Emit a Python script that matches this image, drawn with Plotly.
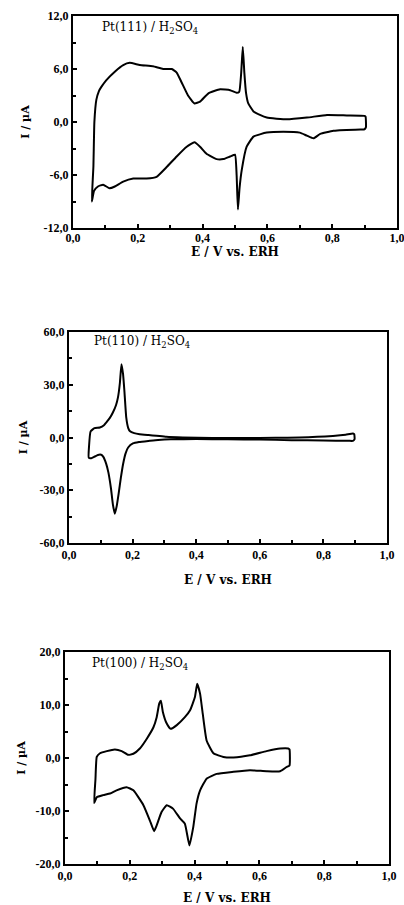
import plotly.graph_objects as go

# ---------------- data ----------------
# Pt(111)
v111_anodic = [0.058, 0.063, 0.066, 0.072, 0.080, 0.088, 0.103, 0.129, 0.155, 0.175, 0.206, 0.247, 0.278,
               0.305, 0.320, 0.335, 0.355, 0.375, 0.392, 0.418, 0.454, 0.485, 0.505, 0.513, 0.519, 0.524,
               0.529, 0.534, 0.541, 0.557, 0.577, 0.598, 0.660, 0.722, 0.784, 0.845, 0.900, 0.903, 0.904, 0.898]
i111_anodic = [-9.0, -5.0, 0.0, 2.5, 3.5, 4.0, 4.75, 5.7, 6.45, 6.7, 6.45, 6.3, 6.0,
               6.0, 5.6, 4.5, 3.0, 2.1, 2.3, 3.25, 3.7, 3.6, 3.3, 3.4, 5.5, 8.5,
               5.5, 3.3, 2.1, 1.2, 0.8, 0.5, 0.3, 0.5, 0.8, 0.75, 0.7, 0.6, -0.6, -0.85]
v111_cathodic = [0.887, 0.804, 0.763, 0.742, 0.722, 0.700, 0.649, 0.598, 0.557, 0.536, 0.521, 0.514, 0.509,
                 0.505, 0.500, 0.485, 0.464, 0.443, 0.412, 0.392, 0.375, 0.351, 0.320, 0.289, 0.258, 0.227,
                 0.186, 0.155, 0.129, 0.113, 0.093, 0.077, 0.065, 0.058]
i111_cathodic = [-0.85, -1.0, -1.35, -1.85, -1.55, -1.2, -1.1, -1.2, -1.65, -2.8, -5.4, -7.5, -9.9,
                 -6.0, -3.7, -3.9, -4.2, -4.2, -3.6, -2.8, -2.3, -2.8, -3.9, -5.1, -6.2, -6.4,
                 -6.4, -6.75, -7.3, -7.5, -7.1, -7.3, -7.8, -9.0]

# Pt(110)
v110_anodic = [0.062, 0.063, 0.068, 0.080, 0.097, 0.110, 0.117, 0.128, 0.138, 0.148, 0.154, 0.160, 0.165,
               0.170, 0.174, 0.180, 0.186, 0.192, 0.205, 0.222, 0.250, 0.275, 0.306, 0.358, 0.45, 0.55,
               0.65, 0.725, 0.78, 0.83, 0.87, 0.893, 0.897, 0.898, 0.893]
i110_anodic = [-11.5, -5.0, 3.5, 5.3, 5.7, 7.0, 8.5, 11.0, 14.2, 18.5, 22.8, 31.0, 41.7,
               36.0, 27.0, 11.4, 5.5, 3.5, 2.5, 1.9, 1.4, 1.0, 0.4, 0.0, -0.3, -0.3,
               -0.2, 0.0, 0.4, 0.9, 1.6, 2.3, 1.8, -1.0, -1.9]
v110_cathodic = [0.88, 0.80, 0.70, 0.60, 0.50, 0.40, 0.32, 0.28, 0.254, 0.22, 0.201, 0.186, 0.178, 0.170,
                 0.163, 0.156, 0.150, 0.144, 0.138, 0.132, 0.124, 0.117, 0.108, 0.101, 0.091, 0.081, 0.070, 0.062]
i110_cathodic = [-1.9, -1.7, -1.5, -1.2, -1.0, -0.9, -1.0, -1.4, -1.9, -2.6, -3.4, -5.7, -9.0, -15.2,
                 -23.0, -32.0, -39.0, -43.3, -38.0, -29.0, -20.0, -15.0, -11.0, -9.8, -9.9, -10.8, -11.8, -11.5]

# Pt(100)
v100_anodic = [0.090, 0.094, 0.098, 0.108, 0.129, 0.154, 0.175, 0.195, 0.211, 0.231, 0.252, 0.273, 0.283,
               0.291, 0.296, 0.302, 0.314, 0.326, 0.345, 0.370, 0.386, 0.401, 0.408, 0.417, 0.425, 0.437,
               0.458, 0.489, 0.520, 0.571, 0.622, 0.664, 0.689, 0.693, 0.693, 0.684]
i100_anodic = [-8.5, -4.0, 0.2, 0.9, 1.3, 1.6, 1.3, 0.6, 0.8, 1.8, 3.6, 5.8, 7.7,
               10.3, 10.8, 8.7, 6.5, 5.5, 6.2, 7.7, 9.0, 11.5, 14.0, 12.1, 8.4, 3.3,
               0.9, 0.2, 0.1, 0.5, 1.3, 1.8, 1.8, 1.6, -1.4, -1.7]
v100_cathodic = [0.664, 0.622, 0.571, 0.520, 0.468, 0.437, 0.417, 0.406, 0.396, 0.384, 0.370, 0.355, 0.334,
                 0.314, 0.298, 0.283, 0.275, 0.262, 0.242, 0.211, 0.190, 0.159, 0.139, 0.118, 0.098, 0.090]
i100_cathodic = [-2.5, -2.5, -2.3, -2.6, -3.0, -3.9, -6.1, -8.6, -13.0, -16.5, -12.4, -11.4, -9.6,
                 -8.9, -10.2, -12.7, -13.8, -11.8, -8.9, -6.1, -5.5, -6.1, -6.7, -7.0, -7.4, -8.5]

x_tickvals = [0.0, 0.2, 0.4, 0.6, 0.8, 1.0]
x_ticktext = ["0,0", "0,2", "0,4", "0,6", "0,8", "1,0"]
y111_tickvals = [-12, -6, 0, 6, 12]
y111_ticktext = ["-12,0", "-6,0", "0,0", "6,0", "12,0"]
y110_tickvals = [-60, -30, 0, 30, 60]
y110_ticktext = ["-60,0", "-30,0", "0,0", "30,0", "60,0"]
y100_tickvals = [-20, -10, 0, 10, 20]
y100_ticktext = ["-20,0", "-10,0", "0,0", "10,0", "20,0"]

labels = ["Pt(111) / H<sub>2</sub>SO<sub>4</sub>",
          "Pt(110) / H<sub>2</sub>SO<sub>4</sub>",
          "Pt(100) / H<sub>2</sub>SO<sub>4</sub>"]
x_title = "E / V vs. ERH"
y_title = "I / µA"

# ---------------- figure ----------------
W, H = 404, 905
fig = go.Figure()

panels = [
    (v111_anodic + v111_cathodic, i111_anodic + i111_cathodic, "x", "y"),
    (v110_anodic + v110_cathodic, i110_anodic + i110_cathodic, "x2", "y2"),
    (v100_anodic + v100_cathodic, i100_anodic + i100_cathodic, "x3", "y3"),
]
for vx, iy, xa, ya in panels:
    fig.add_trace(go.Scatter(x=vx, y=iy, xaxis=xa, yaxis=ya, mode="lines",
                             line=dict(color="black", width=2, shape="spline", smoothing=0.4),
                             showlegend=False, hoverinfo="skip"))

# pixel frames: (left, right, top, bottom)
frames = [(73, 397, 16, 228), (69, 387, 332, 543), (65, 389, 652, 864)]
yinfo = [((-12, 12), y111_tickvals, y111_ticktext, 3),
         ((-60, 60), y110_tickvals, y110_ticktext, 15),
         ((-20, 20), y100_tickvals, y100_ticktext, 5)]
x_label_shift = [-2, 0, 0]
x_standoffs = [0, 14, 12]
y_standoffs = [12, 10, 8]

tickfont = dict(family="Liberation Serif", size=12, color="black", weight="bold")
xtitlefont = dict(family="DejaVu Serif", size=12, color="black", weight="bold")
ytitlefont = dict(family="DejaVu Serif", size=11, color="black", weight="bold")

layout = {}
for k, ((l, r, t, b), (yr, tv, tt, ym)) in enumerate(zip(frames, yinfo)):
    sx = "" if k == 0 else str(k + 1)
    layout["xaxis" + sx] = dict(
        domain=[l / W, r / W], range=[0, 1], anchor="y" + sx, automargin=False,
        tickvals=x_tickvals, ticktext=x_ticktext, ticks="inside", ticklen=4,
        tickwidth=1.5, tickcolor="black", ticklabeloverflow="allow",
        ticklabelstandoff=x_label_shift[k],
        minor=dict(tickvals=[0.1, 0.3, 0.5, 0.7, 0.9], ticks="inside", ticklen=3, tickcolor="black"),
        showline=True, linecolor="black", linewidth=2, mirror=True,
        showgrid=False, zeroline=False, tickfont=tickfont,
        title=dict(text=x_title, font=xtitlefont, standoff=x_standoffs[k]), fixedrange=True)
    layout["yaxis" + sx] = dict(
        domain=[1 - b / H, 1 - t / H], range=list(yr), anchor="x" + sx, automargin=False,
        tickvals=tv, ticktext=tt, ticks="inside", ticklen=4, tickwidth=1.5, tickcolor="black",
        ticklabeloverflow="allow",
        minor=dict(dtick=ym, ticks="inside", ticklen=3, tickcolor="black"),
        showline=True, linecolor="black", linewidth=2, mirror=True,
        showgrid=False, zeroline=False, tickfont=tickfont,
        title=dict(text=y_title, font=ytitlefont, standoff=y_standoffs[k]), fixedrange=True)

annotations = []
label_pos = [(100, 28), (92, 342), (90, 664)]
for (px, py), txt in zip(label_pos, labels):
    annotations.append(dict(text=txt, x=px / W, y=1 - py / H, xref="paper", yref="paper",
                            xanchor="left", yanchor="middle", showarrow=False,
                            font=dict(family="DejaVu Serif", size=12, color="black")))

fig.update_layout(template="none", width=W, height=H, margin=dict(l=0, r=0, t=0, b=0, pad=0),
                  paper_bgcolor="white", plot_bgcolor="white",
                  annotations=annotations, **layout)

fig.write_html("out.html", config={"displayModeBar": False},
               post_script="document.body.style.margin='0';document.body.style.overflow='hidden';")
